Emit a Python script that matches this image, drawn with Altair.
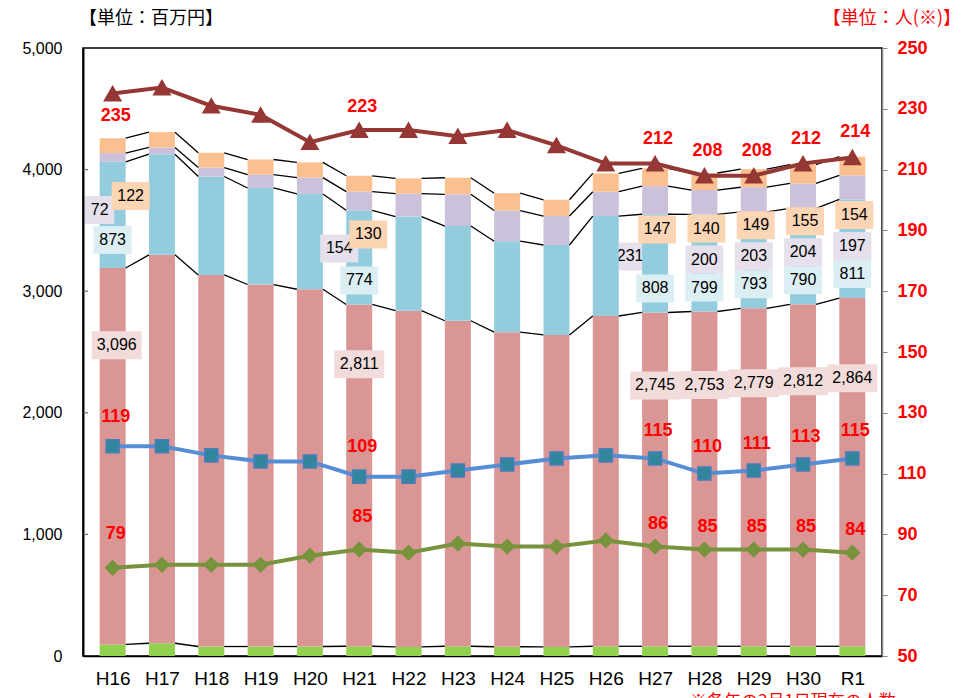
import altair as alt
import pandas as pd

# ---------------- data ----------------
categories = ["H16", "H17", "H18", "H19", "H20", "H21", "H22", "H23",
              "H24", "H25", "H26", "H27", "H28", "H29", "H30", "R1"]

# stacked bar segments (百万円), bottom to top
green_seg = [95, 105, 78, 78, 78, 80, 75, 80, 76, 75, 80, 80, 80, 80, 80, 80]
pink_seg = [3096, 3194, 3056, 2977, 2938, 2811, 2765, 2677, 2587, 2565, 2716, 2745, 2753, 2779, 2812, 2864]
blue_seg = [873, 828, 809, 794, 784, 774, 773, 779, 748, 740, 822, 808, 799, 793, 790, 811]
lavender_seg = [72, 55, 74, 110, 134, 154, 189, 261, 252, 238, 200, 231, 200, 203, 204, 197]
orange_seg = [122, 126, 121, 124, 125, 130, 126, 136, 143, 134, 151, 147, 140, 149, 155, 154]

# lines (人)
line_red = [235, 237, 231, 228, 219, 223, 223, 221, 223, 218, 212, 212, 208, 208, 212, 214]
line_blue = [119, 119, 116, 114, 114, 109, 109, 111, 113, 115, 116, 115, 110, 111, 113, 115]
line_green = [79, 80, 80, 80, 83, 85, 84, 87, 86, 86, 88, 86, 85, 85, 85, 84]

labeled_idx = [0, 5, 11, 12, 13, 14, 15]

left_ticks = [0, 1000, 2000, 3000, 4000, 5000]
right_ticks = [50, 70, 90, 110, 130, 150, 170, 190, 210, 230, 250]

unit_left = "【単位：百万円】"
unit_right = "【単位：人(※)】"
footnote = "※各年の3月1日現在の人数"

# ---------------- styles ----------------
series_names = ["green", "pink", "blue", "lavender", "orange"]
series_vals = [green_seg, pink_seg, blue_seg, lavender_seg, orange_seg]
seg_colors = ["#92D050", "#D99694", "#93CDDD", "#CCC1DA", "#FAC090"]
box_colors = {"pink": "#F2DCDB", "blue": "#DBEEF4", "lavender": "#E6E0EC", "orange": "#FCD5B5"}

# label offsets (px) per group and series
offs = {
    ("H16", "pink"): (4, -111), ("H16", "blue"): (0, -28),
    ("H16", "lavender"): (-13, -58), ("H16", "orange"): (18, -72),
    ("H21", "pink"): (0, -111), ("H21", "blue"): (0, -24),
    ("H21", "lavender"): (-20, -56), ("H21", "orange"): (9, -70),
    ("right", "pink"): (0, -94), ("right", "blue"): (0, -24),
    ("right", "lavender"): (0, -52), ("right", "orange"): (2, -83),
}
hidden_label = (11, "lavender", -25, -56)  # label drawn beneath the bars

box_paths = {
    "2": "M-0.58,-0.56L0.58,-0.56L0.58,0.56L-0.58,0.56Z",
    "3": "M-0.76,-0.56L0.76,-0.56L0.76,0.56L-0.76,0.56Z",
    "5": "M-1,-0.56L1,-0.56L1,0.56L-1,0.56Z",
}

NUMFONT = "Liberation Sans"
JPFONT = "Noto Sans CJK JP"

# ---------------- tables ----------------
n = len(categories)
rows = []
tops = {s: [] for s in series_names}
pink_base = []
for i, c in enumerate(categories):
    base = 0
    for s, vals in zip(series_names, series_vals):
        v = vals[i]
        if s == "pink":
            pink_base.append(base)
        rows.append(dict(idx=i, cat=c, series=s, value=v, y0=base, y1=base + v))
        base += v
        tops[s].append(base)
seg = pd.DataFrame(rows)

conn_rows = []
for s in series_names:
    for i in range(n - 1):
        conn_rows.append(dict(idx=i, idx2=i + 1, ya=tops[s][i], yb=tops[s][i + 1], series=s))
conn = pd.DataFrame(conn_rows)

lab_rows = []
for i in labeled_idx:
    grp = "H16" if i == 0 else ("H21" if i == 5 else "right")
    for s, vals in zip(series_names[1:], series_vals[1:]):
        v = vals[i]
        txt = f"{v:,}"
        if s == "pink":
            anchor = (pink_base[i] + tops["pink"][i]) / 2
        else:
            anchor = tops["pink"][i]
        lab_rows.append(dict(idx=i, grp=grp, series=s, label=txt, nlen=str(len(txt)), anchor=anchor))
labs = pd.DataFrame(lab_rows)

# ---------------- scales / axes ----------------
x_scale = alt.Scale(domain=[-0.5, n - 0.5], nice=False, zero=False)
label_expr = "[" + ",".join(f"'{c}'" for c in categories) + "][datum.value]"
x_axis = alt.Axis(values=list(range(n)), labelExpr=label_expr, title=None, grid=False,
                  ticks=False, domainColor="black", domainWidth=1.5, labelFontSize=19,
                  labelFont=NUMFONT, labelColor="black", labelPadding=13)
yl_scale = alt.Scale(domain=[0, 5000], nice=False)
yl_axis = alt.Axis(values=left_ticks, labelExpr="format(datum.value, ',')", title=None,
                   grid=False, ticks=False, domainColor="black", domainWidth=2,
                   labelFontSize=16, labelFont=NUMFONT, labelColor="black", labelPadding=21)
yr_scale = alt.Scale(domain=[50, 250], nice=False, zero=False)
yr_axis = alt.Axis(orient="right", values=right_ticks, title=None, grid=False,
                   tickColor="#868686", tickSize=5, domainColor="#868686", domainWidth=1.5,
                   labelFontSize=18, labelFontWeight="bold", labelColor="#FF0000",
                   labelFont=NUMFONT, labelPadding=10)


def X(field="idx"):
    return alt.X(f"{field}:Q", scale=x_scale, axis=x_axis)


def YL(field):
    return alt.Y(f"{field}:Q", scale=yl_scale, axis=yl_axis)


def YR(field):
    return alt.Y(f"{field}:Q", scale=yr_scale, axis=yr_axis)


def label_pair(df, series, dx, dy):
    shape = alt.Shape("nlen:N", scale=alt.Scale(domain=list(box_paths.keys()),
                                                 range=list(box_paths.values())), legend=None)
    box = alt.Chart(df).mark_point(filled=True, opacity=1, size=2500, strokeWidth=0,
                                   fill=box_colors[series], xOffset=dx, yOffset=dy).encode(
        x=X(), y=YL("anchor"), shape=shape)
    txt = alt.Chart(df).mark_text(fontSize=16, font=NUMFONT, color="black", dx=dx, dy=dy,
                                  baseline="middle", align="center").encode(
        x=X(), y=YL("anchor"), text="label:N")
    return [box, txt]


# ---------------- left group ----------------
left_layers = []
hi, hs, hdx, hdy = hidden_label
hdf = labs[(labs.idx == hi) & (labs.series == hs)]
left_layers += label_pair(hdf, hs, hdx, hdy)

bars = alt.Chart(seg).mark_bar(size=26).encode(
    x=X(), y=YL("y0"), y2="y1",
    color=alt.Color("series:N", scale=alt.Scale(domain=series_names, range=seg_colors), legend=None),
)
left_layers.append(bars)

connectors = alt.Chart(conn).mark_rule(color="black", strokeWidth=1.3, xOffset=13, x2Offset=-13).encode(
    x=X(), x2="idx2:Q", y=YL("ya"), y2="yb:Q")
left_layers.append(connectors)

# small inward tick marks on the left axis
inner_ticks = alt.Chart(pd.DataFrame({"t": left_ticks[1:-1]})).mark_rule(
    color="#555555", strokeWidth=1).encode(
    x=alt.value(0), x2=alt.value(5), y=YL("t"))
left_layers.append(inner_ticks)

for s in ["pink", "blue", "lavender", "orange"]:
    for grp in ["H16", "H21", "right"]:
        df = labs[(labs.series == s) & (labs.grp == grp)]
        df = df[~((df.idx == hi) & (df.series == hs))]
        dx, dy = offs[(grp, s)]
        left_layers += label_pair(df, s, dx, dy)

t_left = alt.Chart(pd.DataFrame({"t": [unit_left]})).mark_text(
    align="left", baseline="middle", fontSize=18, font=JPFONT, color="black").encode(
    x=alt.value(-4), y=alt.value(-29), text="t:N")
t_right = alt.Chart(pd.DataFrame({"t": [unit_right]})).mark_text(
    align="right", baseline="middle", fontSize=18, font=JPFONT, color="#FF0000").encode(
    x=alt.value(878), y=alt.value(-29), text="t:N")
t_foot = alt.Chart(pd.DataFrame({"t": [footnote]})).mark_text(
    align="left", baseline="top", fontSize=17, font=JPFONT, color="#FF0000").encode(
    x=alt.value(607), y=alt.value(646), text="t:N")
left_layers += [t_left, t_right, t_foot]

left = alt.layer(*left_layers)

# ---------------- right group ----------------
lines = pd.DataFrame({
    "idx": list(range(n)) * 3,
    "v": line_red + line_blue + line_green,
    "name": ["red"] * n + ["blue"] * n + ["green"] * n,
})
line_style = {
    "red": dict(color="#953735", shape="triangle-up", size=270, fill="#953735", stroke="#953735"),
    "blue": dict(color="#558ED5", shape="square", size=170, fill="#31859C", stroke="#4A7EBB"),
    "green": dict(color="#77933C", shape="diamond", size=200, fill="#77933C", stroke="#77933C"),
}
label_dy = {
    "red": {"H16": 22, "H21": -23, "right": -25},
    "blue": {"H16": -29, "H21": -30, "right": -27},
    "green": {"H16": -34, "H21": -33, "right": -23},
}

right_layers = []
for name in ["green", "blue", "red"]:
    st = line_style[name]
    d = lines[lines.name == name]
    right_layers.append(alt.Chart(d).mark_line(color=st["color"], strokeWidth=4).encode(
        x=X(), y=YR("v")))
for name in ["green", "blue", "red"]:
    st = line_style[name]
    d = lines[lines.name == name]
    right_layers.append(alt.Chart(d).mark_point(
        shape=st["shape"], size=st["size"], filled=True, opacity=1, fill=st["fill"],
        stroke=st["stroke"], strokeWidth=1.5).encode(x=X(), y=YR("v")))
for name in ["green", "blue", "red"]:
    d = lines[(lines.name == name) & (lines.idx.isin(labeled_idx))].copy()
    for grp, sel in [("H16", d.idx == 0), ("H21", d.idx == 5), ("right", d.idx > 5)]:
        right_layers.append(alt.Chart(d[sel]).mark_text(
            fontSize=18, fontWeight="bold", font=NUMFONT, color="#FF0000", dx=3,
            dy=label_dy[name][grp], baseline="middle").encode(
            x=X(), y=YR("v"), text="v:Q"))

right = alt.layer(*right_layers)

chart = alt.layer(left, right).resolve_scale(y="independent").properties(
    width=799, height=608,
    padding={"left": 75, "top": 40, "right": 89, "bottom": 60},
    autosize=alt.AutoSizeParams(type="none"),
).configure_view(stroke="black", strokeWidth=1.5)

chart.save("out.html", embed_options={"renderer": "svg", "actions": False})
